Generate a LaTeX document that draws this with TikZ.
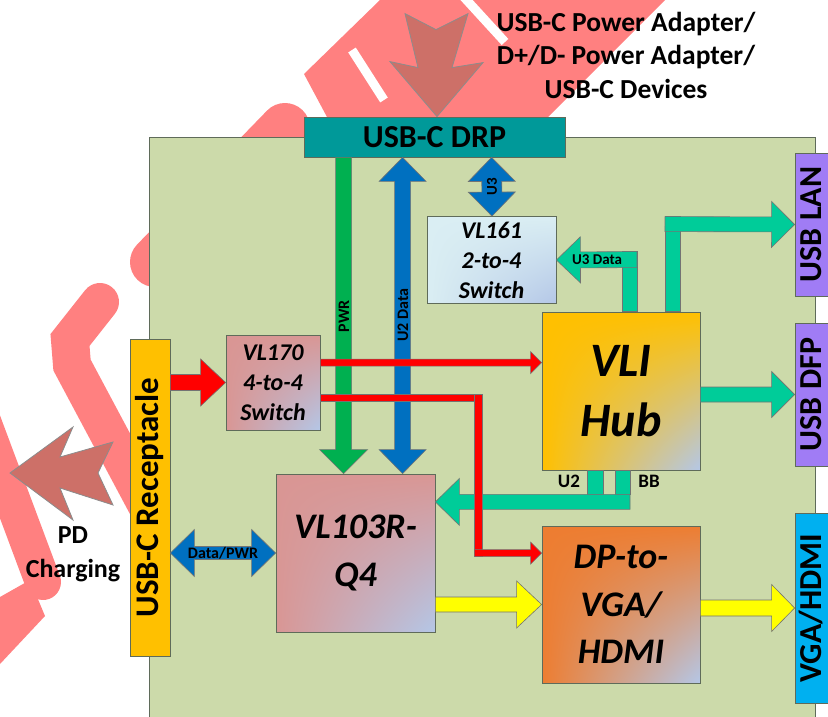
\documentclass[tikz,border=0pt]{standalone}
\usepackage{fontspec}
\setmainfont{Carlito}
\usepackage{graphicx}
\usetikzlibrary{calc, positioning, shadings}
\definecolor{Board}{HTML}{CCDAAA}
\definecolor{Edge}{HTML}{5F6B5A}
\definecolor{DrpTeal}{HTML}{009999}
\definecolor{Amber}{HTML}{FFC000}
\definecolor{Rose}{HTML}{D99694}
\definecolor{Tangerine}{HTML}{ED7D31}
\definecolor{IceBlue}{HTML}{DAEEF3}
\definecolor{Haze}{HTML}{B4C7E7}
\definecolor{Lilac}{HTML}{A07CF5}
\definecolor{PortBlue}{HTML}{00B0F0}
\definecolor{Mint}{HTML}{00CC99}
\definecolor{PwrGreen}{HTML}{00B050}
\definecolor{DataBlue}{HTML}{0070C0}
\definecolor{SigRed}{HTML}{FF0000}
\definecolor{VidYellow}{HTML}{FFFF00}
\definecolor{Clay}{HTML}{CD7068}
\definecolor{Stamp}{HTML}{FF8080}

\newcommand{\fsize}[2]{\fontsize{#1}{#2}\selectfont}
\newcommand{\porttext}[1]{\rotatebox{90}{\raisebox{4pt}[\height][\depth]{#1}}}

\makeatletter
\newcommand{\fa@setup}[2]{%
  \path (#1) coordinate (fa-a) (#2) coordinate (fa-b);
  \pgfpointdiff{\pgfpointanchor{fa-a}{center}}{\pgfpointanchor{fa-b}{center}}%
  \edef\fadx{\the\pgf@x}\edef\fady{\the\pgf@y}%
  \pgfmathsetmacro{\faang}{atan2(\fady,\fadx)}%
  \pgfmathsetmacro{\falen}{veclen(\fadx,\fady)}}
% block arrow: style, from, to, half shaft, half head, head length
\newcommand{\fatarrow}[6]{%
  \fa@setup{#2}{#3}%
  \draw[#1, shift={(fa-a)}, rotate=\faang]
    (0,#4) -- ({\falen-#6},#4) -- ({\falen-#6},#5) -- (\falen,0)
    -- ({\falen-#6},-#5) -- ({\falen-#6},-#4) -- (0,-#4) -- cycle;}
\newcommand{\dblarrow}[6]{%
  \fa@setup{#2}{#3}%
  \draw[#1, shift={(fa-a)}, rotate=\faang]
    (0,0) -- (#6,#5) -- (#6,#4) -- ({\falen-#6},#4) -- ({\falen-#6},#5) -- (\falen,0)
    -- ({\falen-#6},-#5) -- ({\falen-#6},-#4) -- (#6,-#4) -- (#6,-#5) -- cycle;}
\makeatother

\tikzset{
  chip/.style={draw=Edge, line width=0.8pt, inner sep=0pt, align=center, shade,
    upper left=#1, upper right=#1, lower left=#1, lower right=Haze},
  port/.style={draw=Edge, line width=0.8pt, inner sep=0pt, fill=#1, font=\bfseries\fsize{32}{36}},
  pipe/.style={fill=#1, draw=black!55, line width=0.6pt},
  lbl/.style={inner sep=0pt, font=\bfseries\fsize{16}{18}},
  bigarrow/.style={fill=Clay, draw=black!45, line width=0.8pt},
  stamp/.style={draw=Stamp, line cap=round},
}

\begin{document}
\begin{tikzpicture}[x=1pt, y=-1pt]
    \useasboundingbox (0,0) rectangle (828,717);
    \clip (0,0) rectangle (828,717);

    % Watermark
    \draw[stamp, line width=38pt, line cap=round] (100,302) -- (70,340) -- (72,365) -- (160,530);
    \draw[stamp, line width=36pt] (-25,400) -- (43,582);
    \fill[Stamp] (0,597) -- (30,580) -- (45,616) -- (0,664) -- cycle;
    \draw[stamp, line width=50pt] (155,262) -- (285,128);
    \fill[Stamp] (327,117) -- (304,74) -- (380,0) -- (665,0) -- (548,117) -- cycle;
    \draw[white, line width=9pt] (352,50) -- (384,100);
    \draw[white, line width=9pt] (462,-5) -- (505,42);

    % Board
    \node[draw=Edge, line width=0.8pt, fill=Board, anchor=north west,
          minimum width=666pt, minimum height=620pt] (board) at (149,137) {};

    % Nodes
    \node[draw=Edge, line width=0.8pt, fill=DrpTeal, inner sep=0pt, minimum width=261pt, minimum height=40pt,
          font=\bfseries\fsize{32}{36}] (drp) at (434.5,137) {USB-C DRP};
    \node[draw=Edge, line width=0.8pt, fill=Amber, inner sep=0pt, minimum width=40pt, minimum height=317pt,
          font=\bfseries\fsize{33}{36}] (recep) at (150,497.5) {\rotatebox{90}{USB-C Receptacle}};
    \node[chip=Rose, minimum width=94pt, minimum height=95pt, font=\bfseries\itshape\fsize{24}{30}]
          (vl170) at (273,382.5) {VL170\\4-to-4\\Switch};
    \node[chip=IceBlue, minimum width=129pt, minimum height=87pt, font=\bfseries\itshape\fsize{24}{30}]
          (vl161) at (491.5,260) {VL161\\2-to-4\\Switch};
    \node[chip=Amber, minimum width=158pt, minimum height=158pt, font=\bfseries\itshape\fsize{48}{60}]
          (hub) at (621,391) {VLI\\Hub};
    \node[chip=Rose, minimum width=159pt, minimum height=158pt, font=\bfseries\itshape\fsize{36}{48}]
          (vl103) at (355.5,553) {VL103R-\\Q4};
    \node[chip=Tangerine, minimum width=158pt, minimum height=157pt, font=\bfseries\itshape\fsize{36}{47.5}]
          (dpvga) at (621,604.5) {DP-to-\\VGA/\\HDMI};
    \node[port=Lilac, minimum width=40pt, minimum height=143pt] (lan) at (815,224.5) {\porttext{USB LAN}};
    \node[port=Lilac, minimum width=40pt, minimum height=143pt] (dfp) at (815,394.5) {\porttext{USB DFP}};
    \node[port=PortBlue, minimum width=40pt, minimum height=190pt] (vga) at (815,608) {\porttext{VGA/HDMI}};

    \node[font=\bfseries\fsize{27.5}{33.5}, align=center] (source) at (626,55)
          {USB-C Power Adapter/\\D+/D- Power Adapter/\\USB-C Devices};
    \node[font=\bfseries\fsize{26}{34}, align=center] (pdtext) at (73,554) {PD\\Charging};

    % External arrows
    \draw[bigarrow, shift={(drp.north)}] (-29.5,-103) -- (1.5,-87) -- (33.5,-103) -- (17.5,-49)
          -- (48.5,-54) -- (2.5,0) -- (-44.5,-55) -- (-16.5,-49) -- cycle;
    \draw[bigarrow] (10,473) -- (73,427) -- (60,457) -- (113,442) -- (98,473) -- (113,505)
          -- (60,488) -- (73,520) -- cycle;

    % Power and data paths
    \fatarrow{pipe=PwrGreen}{$(drp.south west)+(40,0)$}{$(vl103.north west)+(68,0)$}{8}{24}{24}
    \dblarrow{pipe=DataBlue}{$(drp.south west)+(99,0)$}{$(vl103.north west)+(127,0)$}{8}{23.5}{24}
    \dblarrow{pipe=DataBlue}{$(drp.south west)+(188,0)$}{$(vl161.north)+(0.5,0)$}{10}{23.5}{24}
    \dblarrow{pipe=DataBlue}{recep.east |- vl103.west}{vl103.west}{6.5}{23.5}{24}
    \fatarrow{pipe=SigRed}{recep.east |- vl170.west}{vl170.west}{8}{23.5}{25}
    \fatarrow{pipe=VidYellow}{vl103.east |- dpvga.west}{dpvga.west}{7.5}{23.5}{25}
    \fatarrow{pipe=VidYellow}{dpvga.east |- vga.west}{vga.west}{8}{23.5}{23}
    \fatarrow{pipe=Mint}{hub.east |- dfp.west}{dfp.west}{7.5}{23}{23}

    % Hub upstream/downstream legs
    \draw[pipe=Mint] ($(hub.north)+(44,0)$) rectangle ($(hub.north)+(59,-95)$);
    \fatarrow{pipe=Mint}{$(hub.north)+(44,-87.5)$}{lan.west}{7.5}{23}{23}
    \draw[pipe=Mint] ($(hub.north)+(1,0)$) rectangle ($(hub.north)+(16,-60)$);
    \fatarrow{pipe=Mint}{$(hub.north)+(16,-52)$}{vl161.east}{8}{23}{24}
    \draw[pipe=Mint] ($(hub.south)+(-34,0)$) rectangle ($(hub.south)+(-18,24)$);
    \draw[pipe=Mint] ($(hub.south)+(-6,0)$) rectangle ($(hub.south)+(9,24)$);
    \coordinate (u2bb) at ($(hub.south)+(9,31.5)$);
    \fatarrow{pipe=Mint}{u2bb}{vl103.east |- u2bb}{7.5}{23.5}{24}

    % Switch outputs
    \coordinate (swtop) at ($(vl170.north east)+(0,28)$);
    \fatarrow{pipe=SigRed}{swtop}{hub.west |- swtop}{3.5}{11}{11}
    \draw[pipe=SigRed] ($(vl170.north east)+(0,60)$) rectangle ($(vl170.north east)+(162,67)$);
    \draw[pipe=SigRed] ($(vl170.north east)+(154,60)$) rectangle ($(vl170.north east)+(162,222)$);
    \coordinate (swbot) at ($(vl170.north east)+(154,218.5)$);
    \fatarrow{pipe=SigRed}{swbot}{dpvga.west |- swbot}{3.5}{11}{11}

    % Labels
    \node[lbl, rotate=90] (pwrlbl) at (344,316) {PWR};
    \node[lbl, rotate=90] (u2lbl) at (403,315) {U2 Data};
    \node[lbl, rotate=90, font=\bfseries\fsize{15}{17}] (u3lbl) at (492,187) {U3};
    \node[lbl, font=\bfseries\fsize{15}{17}] (u3data) at (597,260) {U3 Data};
    \node[lbl] (dpwr) at (223,553) {Data/PWR};
    \node[lbl, font=\bfseries\fsize{19}{21}] (u2tag) at (569,481) {U2};
    \node[lbl, font=\bfseries\fsize{19}{21}] (bbtag) at (649,481) {BB};
\end{tikzpicture}
\end{document}
